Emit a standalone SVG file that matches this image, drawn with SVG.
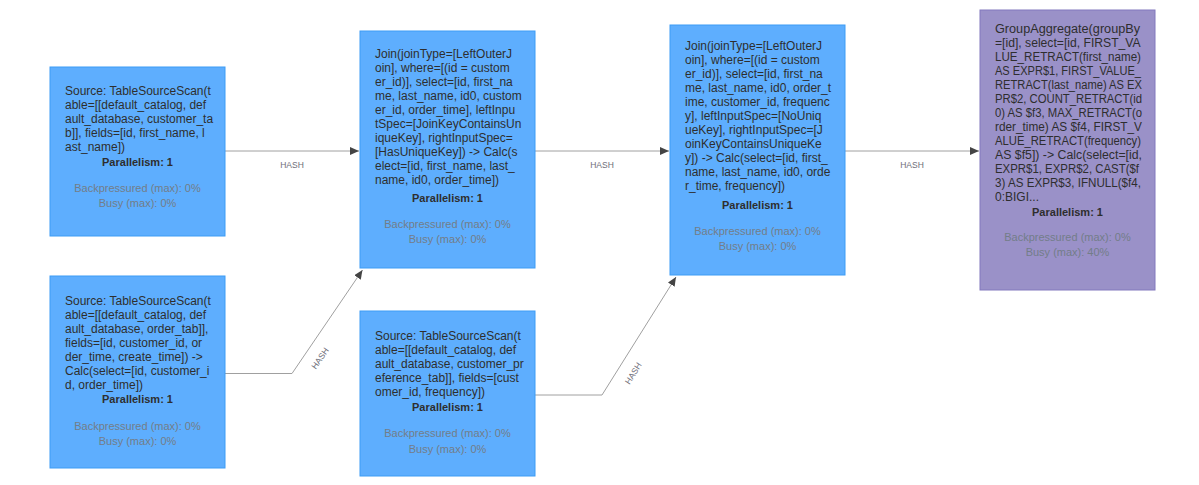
<svg xmlns="http://www.w3.org/2000/svg" width="1199" height="485" viewBox="0 0 1199 485">
<style>
.bg{fill:#ffffff}
.op rect{fill:#5eaefe;stroke:#3c9cf5;stroke-width:1}
.op.agg rect{fill:#9a91c8;stroke:#8278bd}
.body{font-family:"Liberation Sans",Arial,sans-serif;font-size:12px;fill:#2e2e2e}
.par{font-family:"Liberation Sans",Arial,sans-serif;font-size:11px;font-weight:bold;fill:#2e2e2e;text-anchor:middle}
.met{font-family:"Liberation Sans",Arial,sans-serif;font-size:11px;fill:#737d88;text-anchor:middle}
.edge path{fill:none;stroke:#a0a0a0;stroke-width:1}
.lbl{font-family:"Liberation Sans",Arial,sans-serif;font-size:8.5px;fill:#6e6e78;text-anchor:middle}
</style>
<defs>
<marker id="arr" markerUnits="userSpaceOnUse" markerWidth="9" markerHeight="8" refX="9" refY="4" orient="auto">
<path d="M0,0 L9,4 L0,8 z" fill="#444"/>
</marker>
</defs>
<rect class="bg" x="0" y="0" width="1199" height="485"/>

<g id="edges" class="edge">
<path d="M225,151 H359" marker-end="url(#arr)"/>
<path d="M225,373.5 H292 L362.5,270" marker-end="url(#arr)"/>
<path d="M535,151 H669" marker-end="url(#arr)"/>
<path d="M535,395 H602 L676,277" marker-end="url(#arr)"/>
<path d="M845,151 H979" marker-end="url(#arr)"/>
<text class="lbl" x="292" y="167.5">HASH</text>
<text class="lbl" x="602" y="167.5">HASH</text>
<text class="lbl" x="912" y="167.5">HASH</text>
<text class="lbl" transform="translate(320,358.3) rotate(-55.4)" y="3">HASH</text>
<text class="lbl" transform="translate(633.3,373.3) rotate(-57.6)" y="3">HASH</text>
</g>

<g id="node-customer-source" class="op">
<rect x="50" y="67" width="175" height="169"/>
<text class="body" x="65" y="94.7">
<tspan x="65">Source: TableSourceScan(t</tspan>
<tspan x="65" dy="14">able=[[default_catalog, def</tspan>
<tspan x="65" dy="14">ault_database, customer_ta</tspan>
<tspan x="65" dy="14">b]], fields=[id, first_name, l</tspan>
<tspan x="65" dy="14">ast_name])</tspan>
</text>
<text class="par" x="137.5" y="165.7">Parallelism: 1</text>
<text class="met" x="137.5" y="191.5">Backpressured (max): 0%</text>
<text class="met" x="137.5" y="207">Busy (max): 0%</text>
</g>

<g id="node-order-source" class="op">
<rect x="50" y="276" width="175" height="192"/>
<text class="body" x="65" y="304.7">
<tspan x="65">Source: TableSourceScan(t</tspan>
<tspan x="65" dy="14">able=[[default_catalog, def</tspan>
<tspan x="65" dy="14">ault_database, order_tab]],</tspan>
<tspan x="65" dy="14">fields=[id, customer_id, or</tspan>
<tspan x="65" dy="14">der_time, create_time]) -&gt;</tspan>
<tspan x="65" dy="14">Calc(select=[id, customer_i</tspan>
<tspan x="65" dy="14">d, order_time])</tspan>
</text>
<text class="par" x="137.5" y="403.3">Parallelism: 1</text>
<text class="met" x="137.5" y="429.7">Backpressured (max): 0%</text>
<text class="met" x="137.5" y="445.3">Busy (max): 0%</text>
</g>

<g id="node-join-1" class="op">
<rect x="360" y="31" width="175" height="237"/>
<text class="body" x="375" y="58.3">
<tspan x="375">Join(joinType=[LeftOuterJ</tspan>
<tspan x="375" dy="14">oin], where=[(id = custom</tspan>
<tspan x="375" dy="14">er_id)], select=[id, first_na</tspan>
<tspan x="375" dy="14">me, last_name, id0, custom</tspan>
<tspan x="375" dy="14">er_id, order_time], leftInpu</tspan>
<tspan x="375" dy="14">tSpec=[JoinKeyContainsUn</tspan>
<tspan x="375" dy="14">iqueKey], rightInputSpec=</tspan>
<tspan x="375" dy="14">[HasUniqueKey]) -&gt; Calc(s</tspan>
<tspan x="375" dy="14">elect=[id, first_name, last_</tspan>
<tspan x="375" dy="14">name, id0, order_time])</tspan>
</text>
<text class="par" x="447.5" y="202.3">Parallelism: 1</text>
<text class="met" x="447.5" y="228">Backpressured (max): 0%</text>
<text class="met" x="447.5" y="243.3">Busy (max): 0%</text>
</g>

<g id="node-preference-source" class="op">
<rect x="360" y="311" width="175" height="165"/>
<text class="body" x="375" y="339.7">
<tspan x="375">Source: TableSourceScan(t</tspan>
<tspan x="375" dy="14">able=[[default_catalog, def</tspan>
<tspan x="375" dy="14">ault_database, customer_pr</tspan>
<tspan x="375" dy="14">eference_tab]], fields=[cust</tspan>
<tspan x="375" dy="14">omer_id, frequency])</tspan>
</text>
<text class="par" x="447.5" y="410.7">Parallelism: 1</text>
<text class="met" x="447.5" y="436.7">Backpressured (max): 0%</text>
<text class="met" x="447.5" y="453">Busy (max): 0%</text>
</g>

<g id="node-join-2" class="op">
<rect x="670" y="25" width="175" height="250"/>
<text class="body" x="685" y="50">
<tspan x="685">Join(joinType=[LeftOuterJ</tspan>
<tspan x="685" dy="14">oin], where=[(id = custom</tspan>
<tspan x="685" dy="14">er_id)], select=[id, first_na</tspan>
<tspan x="685" dy="14">me, last_name, id0, order_t</tspan>
<tspan x="685" dy="14">ime, customer_id, frequenc</tspan>
<tspan x="685" dy="14">y], leftInputSpec=[NoUniq</tspan>
<tspan x="685" dy="14">ueKey], rightInputSpec=[J</tspan>
<tspan x="685" dy="14">oinKeyContainsUniqueKe</tspan>
<tspan x="685" dy="14">y]) -&gt; Calc(select=[id, first_</tspan>
<tspan x="685" dy="14">name, last_name, id0, orde</tspan>
<tspan x="685" dy="14">r_time, frequency])</tspan>
</text>
<text class="par" x="757.5" y="209">Parallelism: 1</text>
<text class="met" x="757.5" y="234.7">Backpressured (max): 0%</text>
<text class="met" x="757.5" y="250">Busy (max): 0%</text>
</g>

<g id="node-group-aggregate" class="op agg">
<rect x="980" y="10" width="175" height="280"/>
<text class="body" x="995" y="33" lengthAdjust="spacingAndGlyphs">
<tspan x="995" textLength="145" lengthAdjust="spacingAndGlyphs">GroupAggregate(groupBy</tspan>
<tspan x="995" dy="14" textLength="145" lengthAdjust="spacingAndGlyphs">=[id], select=[id, FIRST_VA</tspan>
<tspan x="995" dy="14" textLength="146" lengthAdjust="spacingAndGlyphs">LUE_RETRACT(first_name)</tspan>
<tspan x="995" dy="14" textLength="146" lengthAdjust="spacingAndGlyphs">AS EXPR$1, FIRST_VALUE_</tspan>
<tspan x="995" dy="14" textLength="147" lengthAdjust="spacingAndGlyphs">RETRACT(last_name) AS EX</tspan>
<tspan x="995" dy="14" textLength="147" lengthAdjust="spacingAndGlyphs">PR$2, COUNT_RETRACT(id</tspan>
<tspan x="995" dy="14" textLength="147" lengthAdjust="spacingAndGlyphs">0) AS $f3, MAX_RETRACT(o</tspan>
<tspan x="995" dy="14" textLength="147" lengthAdjust="spacingAndGlyphs">rder_time) AS $f4, FIRST_V</tspan>
<tspan x="995" dy="14" textLength="146" lengthAdjust="spacingAndGlyphs">ALUE_RETRACT(frequency)</tspan>
<tspan x="995" dy="14" textLength="147" lengthAdjust="spacingAndGlyphs">AS $f5]) -&gt; Calc(select=[id,</tspan>
<tspan x="995" dy="14" textLength="144" lengthAdjust="spacingAndGlyphs">EXPR$1, EXPR$2, CAST($f</tspan>
<tspan x="995" dy="14" textLength="146" lengthAdjust="spacingAndGlyphs">3) AS EXPR$3, IFNULL($f4,</tspan>
<tspan x="995" dy="14">0:BIGI...</tspan>
</text>
<text class="par" x="1067.5" y="215.7">Parallelism: 1</text>
<text class="met" x="1067.5" y="240.7">Backpressured (max): 0%</text>
<text class="met" x="1067.5" y="256.3">Busy (max): 40%</text>
</g>
</svg>
